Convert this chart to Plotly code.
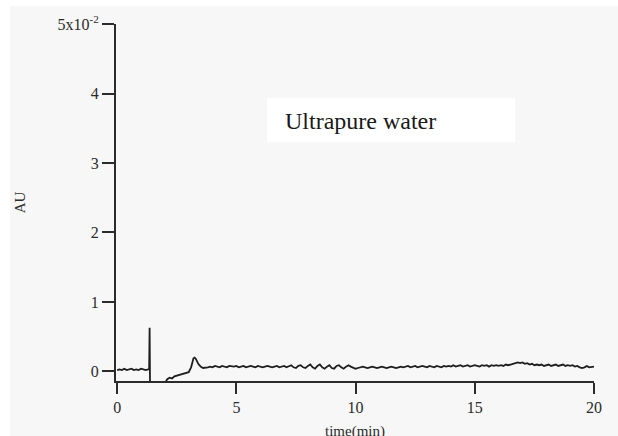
import plotly.graph_objects as go

# ---- data (AU in units of 1e-2) ----
t_start = [0.0, 0.1, 0.2, 0.3, 0.4, 0.5, 0.6, 0.7, 0.8, 0.9, 1.0, 1.1, 1.2, 1.3,
           1.34, 1.36, 1.38, 1.6, 1.9, 2.0, 2.1, 2.2, 2.3, 2.4, 2.5, 2.6, 2.7, 2.8,
           2.9, 3.0, 3.1, 3.15, 3.2, 3.25, 3.3, 3.4, 3.5, 3.6, 3.7]
au_start = [0.02, 0.03, 0.02, 0.04, 0.02, 0.03, 0.04, 0.02, 0.03, 0.02, 0.04, 0.03, 0.02, 0.03,
            0.03, 0.63, -0.35, -0.40, -0.30, -0.17, -0.11, -0.09, -0.10, -0.07, -0.06, -0.06, -0.04, -0.04,
            -0.02, -0.01, 0.06, 0.15, 0.19, 0.20, 0.18, 0.11, 0.07, 0.05, 0.05]

au_main = [
    0.06, 0.07,
    0.06, 0.08, 0.07, 0.06, 0.08, 0.07, 0.06, 0.08, 0.07, 0.07,
    0.08, 0.06, 0.07, 0.08, 0.06, 0.07, 0.08, 0.07, 0.06, 0.08,
    0.07, 0.06, 0.07, 0.08, 0.07, 0.06, 0.07, 0.08, 0.06, 0.07,
    0.08, 0.06, 0.07, 0.09, 0.06, 0.05, 0.08, 0.09, 0.06, 0.05,
    0.08, 0.10, 0.06, 0.04, 0.08, 0.10, 0.06, 0.04, 0.07, 0.09,
    0.05, 0.04, 0.08, 0.09, 0.06, 0.04, 0.07, 0.09, 0.07, 0.05,
    0.04, 0.05, 0.06, 0.07, 0.06, 0.05, 0.06, 0.07, 0.06, 0.05,
    0.06, 0.07, 0.06, 0.05, 0.06, 0.07, 0.06, 0.05, 0.06, 0.07,
    0.06, 0.07, 0.08, 0.06, 0.07, 0.08, 0.06, 0.07, 0.08, 0.07,
    0.06, 0.08, 0.07, 0.06, 0.08, 0.07, 0.06, 0.08, 0.07, 0.08,
    0.07, 0.09, 0.07, 0.08, 0.09, 0.07, 0.08, 0.09, 0.07, 0.08,
    0.09, 0.08, 0.07, 0.09, 0.08, 0.09, 0.07, 0.09, 0.08, 0.09,
    0.08, 0.09, 0.08, 0.10, 0.09, 0.10, 0.11, 0.12, 0.13, 0.12,
    0.13, 0.11, 0.12, 0.10, 0.11, 0.09, 0.10, 0.09, 0.10, 0.08,
    0.09, 0.10, 0.08, 0.09, 0.10, 0.08, 0.09, 0.10, 0.08, 0.09,
    0.08, 0.09, 0.07, 0.08, 0.06, 0.05, 0.06, 0.08, 0.06, 0.07,
    0.07,
]
t_main = [round(3.8 + 0.1 * i, 2) for i in range(len(au_main))]

time_min = t_start + t_main
au = au_start + au_main

y_tickvals = [0, 1, 2, 3, 4, 5]
y_ticktext = ["0", "1", "2", "3", "4", "5x10<sup>-2</sup>"]
x_tickvals = [0, 5, 10, 15, 20]
x_ticktext = ["0", "5", "10", "15", "20"]
label_text = "Ultrapure water"
x_title = "time(min)"
y_title = "AU"

FONT = "'Liberation Serif', 'Times New Roman', 'DejaVu Serif', serif"
AXC = "#2b2b2b"

fig = go.Figure()
fig.add_trace(go.Scatter(x=time_min, y=au, mode="lines",
                         line=dict(color="#1e1e1e", width=1.8),
                         showlegend=False, hoverinfo="skip"))

# grey image background
fig.add_shape(type="rect", xref="paper", yref="paper", layer="below",
              x0=-0.2218, x1=1.06, y0=-0.16, y1=1.0505,
              fillcolor="#f7f7f7", line=dict(width=0))
# white label box
fig.add_shape(type="rect", xref="paper", yref="paper", layer="below",
              x0=0.316, x1=0.835, y0=0.669, y1=0.7924,
              fillcolor="#ffffff", line=dict(width=0))
fig.add_annotation(text=label_text, xref="paper", yref="paper",
                   x=0.349, y=0.728, xanchor="left", yanchor="middle",
                   showarrow=False,
                   font=dict(family=FONT, size=24, color="#1a1a1a"))
# x-axis title (sits at the page bottom, as in the reference)
fig.add_annotation(text=x_title, xref="paper", yref="paper",
                   x=0.5, y=-0.111, xanchor="center", yanchor="top",
                   showarrow=False,
                   font=dict(family=FONT, size=15, color=AXC))

fig.update_xaxes(range=[-0.05, 20], tickvals=x_tickvals, ticktext=x_ticktext,
                 showline=True, linecolor=AXC, linewidth=2,
                 ticks="outside", ticklen=11, tickwidth=2, tickcolor=AXC,
                 showgrid=False, zeroline=False,
                 tickfont=dict(family=FONT, size=16, color=AXC))
fig.update_yaxes(range=[-0.137, 5], tickvals=y_tickvals, ticktext=y_ticktext,
                 showline=True, linecolor=AXC, linewidth=2,
                 ticks="outside", ticklen=12, tickwidth=2, tickcolor=AXC,
                 showgrid=False, zeroline=False,
                 tickfont=dict(family=FONT, size=16, color=AXC),
                 title=dict(text=y_title, standoff=28,
                            font=dict(family=FONT, size=15, color=AXC)))

fig.update_layout(width=618, height=436,
                  margin=dict(l=116, r=24, t=24, b=55, autoexpand=False),
                  paper_bgcolor="#ffffff", plot_bgcolor="rgba(0,0,0,0)")

fig.write_html("out.html")
